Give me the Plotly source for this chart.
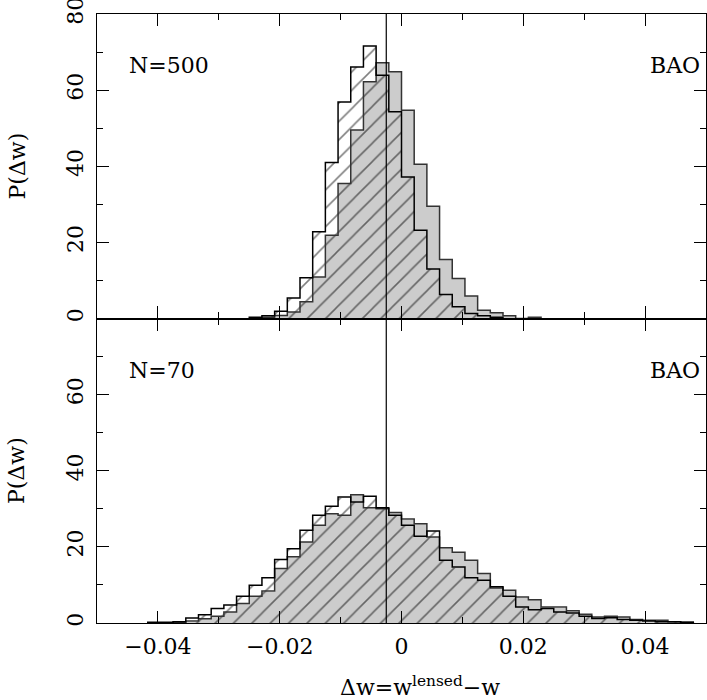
import numpy as np
import plotly.graph_objects as go
from plotly.subplots import make_subplots

# 48 equal bins between -0.05 and 0.05
bin_edges = np.linspace(-0.05, 0.05, 49)

# N=500 panel, P(dw) per bin (first value is the bin starting at -0.05)
top_grey = [0, 0, 0, 0, 0, 0, 0, 0, 0, 0, 0, 0,
            0, 0.3, 0.8, 1.7, 4.4, 10.9, 21.9, 35.5, 49.5, 62.2, 67.2, 64.8,
            54.7, 40.5, 29.5, 15.5, 10.5, 5.9, 2.2, 1.5, 0.7, 0, 0.3, 0,
            0, 0, 0, 0, 0, 0, 0, 0, 0, 0, 0, 0]
top_hatched = [0, 0, 0, 0, 0, 0, 0, 0, 0, 0, 0, 0,
               0.3, 0.7, 1.9, 5.4, 10.7, 22.8, 41.0, 56.9, 66.1, 71.6, 63.9, 54.3,
               37.2, 23.2, 13.0, 6.3, 3.1, 1.3, 0.7, 0.3, 0, 0, 0, 0,
               0, 0, 0, 0, 0, 0, 0, 0, 0, 0, 0, 0]

# N=70 panel
bottom_grey = [0, 0, 0, 0, 0, 0, 0.2, 0.5, 1.1, 1.8, 2.9, 5.1,
               7.0, 8.4, 14.3, 17.4, 21.3, 25.7, 28.7, 28.3, 33.7, 30.3, 30.0, 29.0,
               27.3, 26.1, 22.6, 19.8, 18.6, 16.5, 13.0, 9.2, 8.6, 6.8, 6.1, 4.2,
               4.2, 3.2, 2.3, 1.6, 1.8, 1.6, 0.9, 0.7, 0.7, 0.3, 0.2, 0]
bottom_hatched = [0, 0, 0, 0, 0.2, 0.2, 0.3, 1.3, 2.2, 3.8, 4.7, 7.0,
                  9.9, 11.9, 16.7, 19.5, 24.4, 28.3, 30.7, 33.1, 31.8, 33.3, 30.3, 28.3,
                  25.7, 22.8, 24.2, 16.5, 14.7, 11.9, 11.2, 9.5, 7.0, 4.2, 3.5, 3.8,
                  2.9, 2.6, 1.8, 1.2, 1.4, 0.9, 0.7, 0.5, 0.3, 0.3, 0.2, 0]

ref_line = -0.0025

x_ticks = [-0.04, -0.02, 0, 0.02, 0.04]
x_tick_labels = ["−0.04", "−0.02", "0", "0.02", "0.04"]
y_ticks_top = [0, 20, 40, 60, 80]
y_ticks_bottom = [0, 20, 40, 60]

FONT = "DejaVu Serif"
GREY = "#cccccc"
CLEAR = "rgba(0,0,0,0)"

bin_w = bin_edges[1] - bin_edges[0]
centers = (bin_edges[:-1] + bin_edges[1:]) / 2


def step_outline(vals):
    # outline of the histogram from first to last non-empty bin
    nz = [i for i, v in enumerate(vals) if v > 0]
    a, b = nz[0], nz[-1] + 1
    xs = [bin_edges[a]] + list(bin_edges[a:b]) + [bin_edges[b]]
    ys = [0] + list(vals[a:b]) + [0]
    return xs, ys


fig = make_subplots(rows=2, cols=1, shared_xaxes=True, vertical_spacing=0)

panels = [(1, top_grey, top_hatched, "N=500"), (2, bottom_grey, bottom_hatched, "N=70")]
for row, grey, hatched, label in panels:
    fig.add_trace(go.Bar(x=centers, y=grey, width=bin_w,
                         marker=dict(color=GREY, line_width=0)), row=row, col=1)
    fig.add_trace(go.Bar(x=centers, y=hatched, width=bin_w,
                         marker=dict(color=CLEAR, line_width=0,
                                     pattern=dict(shape="/", size=13, solidity=0.12,
                                                  fgcolor="black", bgcolor=CLEAR))),
                  row=row, col=1)
    for vals, c in ((grey, "#333333"), (hatched, "black")):
        sx, sy = step_outline(vals)
        fig.add_trace(go.Scatter(x=sx, y=sy, mode="lines",
                                 line=dict(color=c, width=1.5, shape="hv")),
                      row=row, col=1)

    yref = "y domain" if row == 1 else "y2 domain"
    xref = "x domain" if row == 1 else "x2 domain"
    fig.add_annotation(x=0.05, y=0.83, xref=xref, yref=yref, text=label, showarrow=False,
                       xanchor="left", yanchor="middle", font=dict(family=FONT, size=22))
    fig.add_annotation(x=0.993, y=0.83, xref=xref, yref=yref, text="BAO", showarrow=False,
                       xanchor="right", yanchor="middle", font=dict(family=FONT, size=22))
    fig.add_annotation(x=-0.131, y=0.5, xref="paper", yref=yref, text="P(Δw)", showarrow=False,
                       textangle=-90, xanchor="center", yanchor="middle",
                       font=dict(family=FONT, size=22))

fig.add_vline(x=ref_line, line_color="black", line_width=1.2)

fig.add_annotation(x=0.53, y=-0.103, xref="paper", yref="paper",
                   text="Δw=w<sup>lensed</sup>−w", showarrow=False,
                   xanchor="center", yanchor="middle", font=dict(family=FONT, size=22))

fig.update_xaxes(
    range=[-0.05, 0.05], tickvals=x_ticks, ticktext=x_tick_labels,
    ticks="inside", ticklen=12, tickwidth=1.2, tickcolor="black",
    mirror="allticks", showline=True, linecolor="black", linewidth=1.3,
    showgrid=False, zeroline=False, ticklabelstandoff=3,
    minor=dict(dtick=0.01, tick0=0, ticks="inside", ticklen=6, tickwidth=1.2,
               tickcolor="black", showgrid=False),
    tickfont=dict(family=FONT, size=22, color="black"),
)
fig.update_yaxes(
    range=[0, 80], ticks="inside", ticklen=12, tickwidth=1.2, tickcolor="black",
    mirror="allticks", showline=True, linecolor="black", linewidth=1.3,
    showgrid=False, zeroline=False, tickangle=-90, ticklabelstandoff=4,
    ticklabeloverflow="allow",
    minor=dict(dtick=10, tick0=0, ticks="inside", ticklen=6, tickwidth=1.2,
               tickcolor="black", showgrid=False),
    tickfont=dict(family=FONT, size=22, color="black"),
)
fig.update_yaxes(tickvals=y_ticks_top, row=1, col=1)
fig.update_yaxes(tickvals=y_ticks_bottom, row=2, col=1)

fig.update_layout(
    width=707, height=700,
    margin=dict(l=97, r=1, t=14, b=77, autoexpand=False),
    barmode="overlay", bargap=0,
    showlegend=False,
    paper_bgcolor="white", plot_bgcolor="white",
    font=dict(family=FONT, color="black"),
)

# drop the default 8px page margin so the figure fills the window
fig.write_html("out.html", config={"displayModeBar": False},
               post_script="document.body.style.margin = '0';")
